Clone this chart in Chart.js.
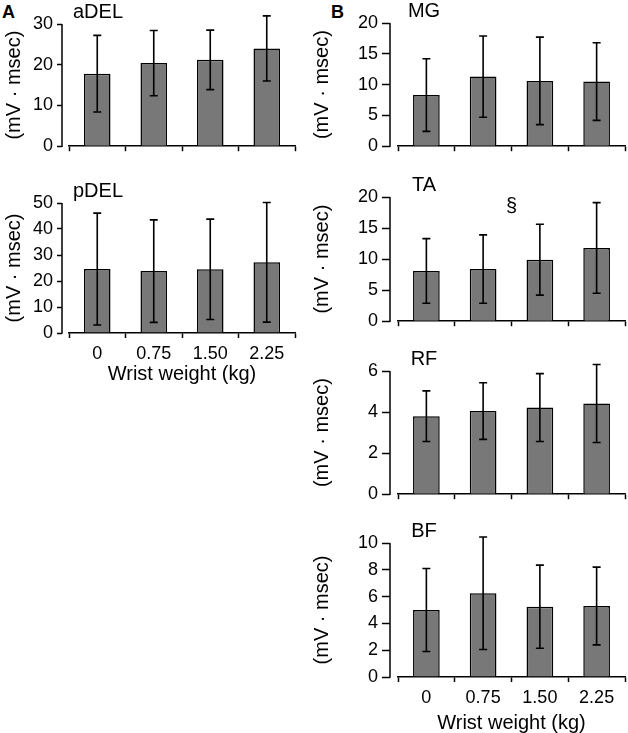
<!DOCTYPE html>
<html>
<head>
<meta charset="utf-8">
<script src="https://cdn.jsdelivr.net/npm/chart.js@4.4.1/dist/chart.umd.min.js"></script>
<style>
  body { margin: 0; background: #fff; }
  #fig { position: relative; width: 628px; height: 733px; overflow: hidden; font-family: "Liberation Sans", Arial, sans-serif; }
  .panel { position: absolute; }
  .letter { position: absolute; font-weight: bold; font-size: 18px; line-height: 18px; color: #000; }
</style>
</head>
<body>
<div id="fig">
  <div class="letter" style="left:2px;top:3px">A</div>
  <div class="letter" style="left:331px;top:3px">B</div>
  <div class="panel" style="left:0;top:0;width:300px;height:161px"><canvas id="adel"></canvas></div>
  <div class="panel" style="left:0;top:165px;width:300px;height:225px"><canvas id="pdel"></canvas></div>
  <div class="panel" style="left:310px;top:0;width:318px;height:161px"><canvas id="mg"></canvas></div>
  <div class="panel" style="left:310px;top:165px;width:318px;height:171px"><canvas id="ta"></canvas></div>
  <div class="panel" style="left:310px;top:340px;width:318px;height:169px"><canvas id="rf"></canvas></div>
  <div class="panel" style="left:310px;top:510px;width:318px;height:225px"><canvas id="bf"></canvas></div>
</div>
<script>
// wrist weight categories (kg)
var weights = ['0', '0.75', '1.50', '2.25'];

// means and SDs (mV · msec)
var aDEL = [17.8, 20.4, 21.2, 24.0];
var aDEL_sd = [9.4, 8.0, 7.3, 8.0];
var pDEL = [24.6, 23.8, 24.5, 27.2];
var pDEL_sd = [21.5, 19.7, 19.3, 23.0];
var MG = [8.3, 11.3, 10.6, 10.5];
var MG_sd = [5.9, 6.6, 7.1, 6.3];
var TA = [8.1, 8.4, 9.9, 11.8];
var TA_sd = [5.2, 5.5, 5.7, 7.3];
var RF = [3.8, 4.05, 4.22, 4.42];
var RF_sd = [1.23, 1.38, 1.65, 1.9];
var BF = [5.0, 6.25, 5.25, 5.3];
var BF_sd = [3.1, 4.2, 3.1, 2.9];

// significance mark in TA, between 0.75 and 1.50
var TA_mark = '§';
var TA_markAt = [1.5, 18.5];

Chart.defaults.font.family = '"Liberation Sans", Arial, sans-serif';
Chart.defaults.color = '#000';

// draw mean ± SD whiskers on each bar
var errorBars = {
  id: 'errorBars',
  afterDatasetsDraw: function(chart) {
    var ctx = chart.ctx;
    var y = chart.scales.y;
    var ds = chart.data.datasets[0];
    ctx.save();
    ctx.strokeStyle = '#000';
    ctx.lineWidth = 1.6;
    chart.getDatasetMeta(0).data.forEach(function(bar, i) {
      var top = y.getPixelForValue(ds.data[i] + ds.errors[i]);
      var bot = y.getPixelForValue(ds.data[i] - ds.errors[i]);
      ctx.beginPath();
      ctx.moveTo(bar.x, top); ctx.lineTo(bar.x, bot);
      ctx.moveTo(bar.x - 4, top); ctx.lineTo(bar.x + 4, top);
      ctx.moveTo(bar.x - 4, bot); ctx.lineTo(bar.x + 4, bot);
      ctx.stroke();
    });
    ctx.restore();
  }
};

// y axis line (set off from the x axis) + panel name + optional mark
var panelDecor = {
  id: 'panelDecor',
  afterDraw: function(chart, args, o) {
    var ctx = chart.ctx, a = chart.chartArea;
    ctx.save();
    ctx.strokeStyle = '#000';
    ctx.lineWidth = 1.5;
    ctx.beginPath();
    ctx.moveTo(a.left - o.gap, a.top);
    ctx.lineTo(a.left - o.gap, a.bottom + 0.75);
    ctx.stroke();
    ctx.fillStyle = '#000';
    ctx.font = '20px "Liberation Sans", Arial, sans-serif';
    ctx.textAlign = 'center';
    ctx.textBaseline = 'alphabetic';
    ctx.fillText(o.name, a.left + o.nameX, a.top - 6);
    if (o.mark) {
      ctx.textBaseline = 'middle';
      ctx.fillText(o.mark, chart.scales.x.getPixelForValue(o.markAt[0]), chart.scales.y.getPixelForValue(o.markAt[1]));
    }
    ctx.restore();
  }
};

function makeChart(id, p) {
  return new Chart(document.getElementById(id), {
    type: 'bar',
    data: {
      labels: weights,
      datasets: [{
        data: p.values,
        errors: p.sd,
        backgroundColor: '#787878',
        borderColor: '#000',
        borderWidth: 1.5,
        barPercentage: 0.47,
        categoryPercentage: 1
      }]
    },
    options: {
      responsive: true,
      maintainAspectRatio: false,
      animation: false,
      layout: { padding: { top: p.padTop, right: p.padRight, left: 0, bottom: 0 } },
      plugins: {
        legend: { display: false },
        tooltip: { enabled: false },
        panelDecor: { name: p.name, nameX: p.nameX, gap: p.gap, mark: p.mark, markAt: p.markAt }
      },
      scales: {
        x: {
          grid: { offset: true, drawOnChartArea: false, tickLength: 5, tickColor: '#000', tickWidth: 1.5 },
          border: { color: '#000', width: 1.5 },
          ticks: { display: p.showX, font: { size: 18 }, padding: 5, maxRotation: 0 },
          title: { display: p.showX, text: 'Wrist weight (kg)', font: { size: 20 }, padding: { top: 0, bottom: p.xTitlePad } },
          afterFit: function(s) { s.height = p.xHeight; }
        },
        y: {
          min: 0,
          max: p.yMax,
          ticks: { stepSize: p.yStep, font: { size: 18 }, padding: 4 },
          grid: { drawOnChartArea: false, tickLength: p.gap + p.tick, tickColor: '#000', tickWidth: 1.5, tickBorderDash: [p.tick, 100] },
          border: { display: false },
          title: { display: true, text: '(mV · msec)', font: { size: 20 }, padding: { top: p.titlePad, bottom: 0 } },
          afterFit: function(s) { s.width = p.yWidth; }
        }
      }
    },
    plugins: [errorBars, panelDecor]
  });
}

var left = { yWidth: 69, padRight: 5, gap: 7, tick: 5, titlePad: 2, nameX: 29 };
var right = { yWidth: 88, padRight: 3, gap: 8, tick: 8, titlePad: 0, nameX: 26 };

makeChart('adel', Object.assign({}, left, { name: 'aDEL', values: aDEL, sd: aDEL_sd, yMax: 30, yStep: 10, padTop: 24, xHeight: 8, showX: false }));
makeChart('pdel', Object.assign({}, left, { name: 'pDEL', values: pDEL, sd: pDEL_sd, yMax: 50, yStep: 10, padTop: 38, xHeight: 57, showX: true, xTitlePad: 4 }));
makeChart('mg', Object.assign({}, right, { name: 'MG', values: MG, sd: MG_sd, yMax: 20, yStep: 5, padTop: 23, xHeight: 8, showX: false }));
makeChart('ta', Object.assign({}, right, { name: 'TA', values: TA, sd: TA_sd, yMax: 20, yStep: 5, padTop: 32, xHeight: 8, showX: false, mark: TA_mark, markAt: TA_markAt }));
makeChart('rf', Object.assign({}, right, { name: 'RF', values: RF, sd: RF_sd, yMax: 6, yStep: 2, padTop: 31, xHeight: 8, showX: false }));
makeChart('bf', Object.assign({}, right, { name: 'BF', values: BF, sd: BF_sd, yMax: 10, yStep: 2, padTop: 33, xHeight: 58, showX: true, xTitlePad: 0 }));
</script>
</body>
</html>
